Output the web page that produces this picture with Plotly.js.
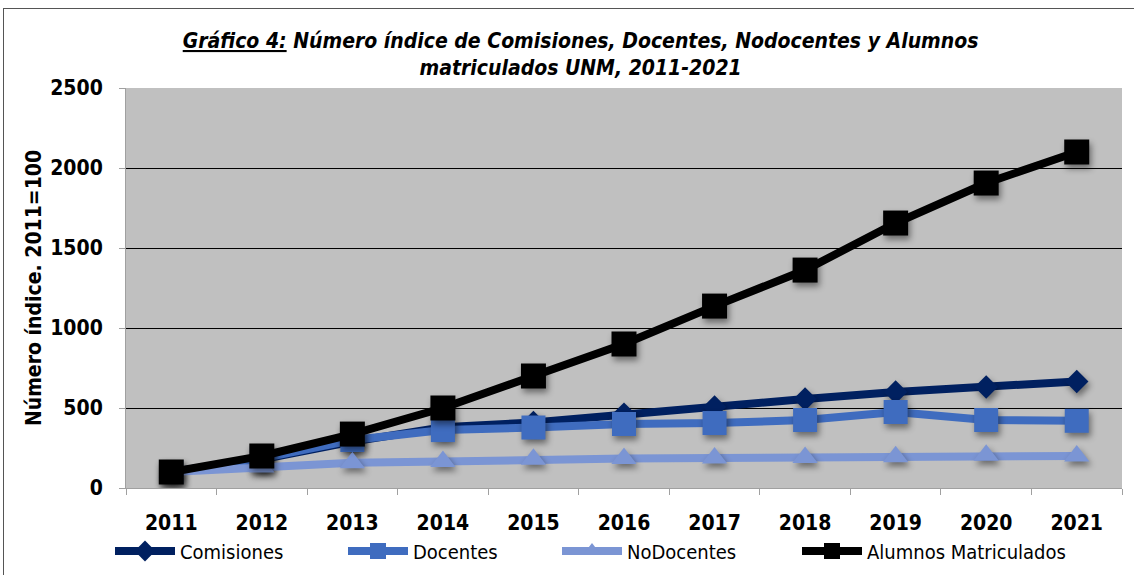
<!DOCTYPE html>
<html>
<head>
<meta charset="utf-8">
<script src="https://cdn.plot.ly/plotly-3.0.1.min.js"></script>
<style>
  html, body { margin: 0; padding: 0; background: #ffffff; }
  #wrap { position: relative; width: 1134px; height: 575px; overflow: hidden; }
  #frame { position: absolute; left: 3px; top: 8px; width: 1140px; height: 580px; border: 1.5px solid #555; box-sizing: border-box; pointer-events: none; }
  #chart { position: absolute; left: 0; top: 0; width: 1134px; height: 575px; }
  #chart .scatterlayer .points path { filter: drop-shadow(2px 4px 3px rgba(0,0,0,0.45)); }
</style>
</head>
<body>
<div id="wrap">
  <div id="chart"></div>
  <div id="frame"></div>
</div>
<script>
const years = ['2011','2012','2013','2014','2015','2016','2017','2018','2019','2020','2021'];
const comisiones = [100, 180, 290, 380, 410, 462, 506, 556, 600, 631, 666];
const docentes   = [100, 185, 300, 362, 378, 400, 406, 425, 475, 425, 420];
const nodocentes = [100, 132, 158, 165, 180, 185, 188, 190, 195, 205, 200];
const alumnos    = [100, 200, 337, 500, 700, 900, 1137, 1362, 1656, 1906, 2100];
const yTicks = [0, 500, 1000, 1500, 2000, 2500];

const FONT = '"DejaVu Sans Condensed", "Liberation Sans Narrow", "Arial Narrow", sans-serif';

function series(name, y, color, symbol, size, legendId) {
  return {
    type: 'scatter', mode: 'lines+markers', name: name, x: years, y: y,
    legend: legendId,
    line: { color: color, width: 8 },
    marker: { color: color, symbol: symbol, size: size, line: { width: 0 } }
  };
}

const data = [
  series('Comisiones', comisiones, '#002060', 'diamond', 18, 'legend'),
  series('Docentes', docentes, '#3f6cbf', 'square', 24, 'legend2'),
  series('NoDocentes', nodocentes, '#7b95d4', 'triangle-up', 22, 'legend3'),
  series('Alumnos Matriculados', alumnos, '#000000', 'square', 25, 'legend4')
];

function leg(px) {
  return {
    orientation: 'h', xref: 'container', yref: 'container',
    x: px / 1134, xanchor: 'left', y: 1 - 551 / 575, yanchor: 'middle',
    font: { family: FONT, size: 20, color: '#000' },
    bgcolor: 'rgba(0,0,0,0)', itemwidth: 60, borderwidth: 0
  };
}

const layout = {
  width: 1134, height: 575,
  margin: { l: 126, r: 12, t: 88, b: 87 },
  paper_bgcolor: '#ffffff',
  plot_bgcolor: '#c0c0c0',
  showlegend: true,
  title: {
    text: '<i><b><u>Gráfico 4:</u> Número índice de Comisiones, Docentes, Nodocentes y Alumnos<br>matriculados UNM, 2011-2021</b></i>',
    font: { family: FONT, size: 21, color: '#000' },
    x: 0.512, xanchor: 'center', y: 1 - 48 / 575, yanchor: 'middle'
  },
  xaxis: {
    type: 'category',
    range: [-0.5, 10.5],
    tickvals: years, ticktext: years,
    tickson: 'boundaries',
    ticks: 'outside', ticklen: 6, tickcolor: '#a0a0a0',
    showline: true, linecolor: '#a0a0a0', linewidth: 1,
    showgrid: false, zeroline: false,
    tickfont: { family: FONT, size: 21, color: '#000', weight: 'bold' },
    ticklabelstandoff: 16,
    automargin: false,
    fixedrange: true
  },
  yaxis: {
    range: [0, 2500],
    tickvals: yTicks, ticktext: yTicks.map(String),
    ticks: 'outside', ticklen: 6, tickcolor: '#a0a0a0',
    showline: true, linecolor: '#a0a0a0', linewidth: 1,
    showgrid: true, gridcolor: '#000000', gridwidth: 1,
    zeroline: false,
    tickfont: { family: FONT, size: 21, color: '#000', weight: 'bold' },
    ticklabelstandoff: 12,
    title: { text: '<b>Número índice. 2011=100</b>', font: { family: FONT, size: 21, color: '#000' }, standoff: 2 },
    automargin: false,
    fixedrange: true
  },
  legend: leg(110),
  legend2: leg(343),
  legend3: leg(557),
  legend4: leg(797)
};

Plotly.newPlot('chart', data, layout, { displayModeBar: false, staticPlot: true });
</script>
</body>
</html>
